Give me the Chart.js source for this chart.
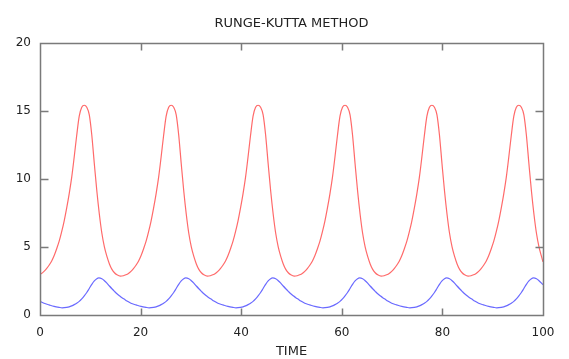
<!DOCTYPE html>
<html><head><meta charset="utf-8">
<script src="https://cdn.jsdelivr.net/npm/chart.js@4.4.1/dist/chart.umd.min.js"></script>
<style>html,body{margin:0;padding:0;background:#fff;}#wrap{width:569px;height:359px;}</style>
</head><body><div id="wrap"><canvas id="c" width="569" height="359"></canvas></div>
<script>
const chartTitle = 'RUNGE-KUTTA METHOD';
const xAxisTitle = 'TIME';
const xTicks = [0, 20, 40, 60, 80, 100];
const yTicks = [0, 5, 10, 15, 20];

// Red series (prey)
const redTime = [
  0, 0.3, 0.8, 1.3, 1.8, 2.3, 2.8, 3.3, 3.8, 4.3, 4.8, 5.3, 5.8, 6.3, 6.8, 7.3, 7.8, 8.3, 8.8, 9.3, 9.8, 10.3, 10.8, 11.3, 11.8, 12.3, 12.8, 13.3, 13.8, 14.3, 14.8, 15.3,
  15.98, 16.58, 17.08, 17.58, 18.08, 18.58, 19.08, 19.58, 20.08, 20.58, 21.08, 21.58, 22.08, 22.58, 23.08, 23.58, 24.08, 24.58, 25.08, 25.58, 26.08, 26.58, 27.08, 27.58, 28.08, 28.58, 29.08, 29.58, 30.08, 30.58, 31.08, 31.58, 32.08, 32.58,
  33.26, 33.86, 34.36, 34.86, 35.36, 35.86, 36.36, 36.86, 37.36, 37.86, 38.36, 38.86, 39.36, 39.86, 40.36, 40.86, 41.36, 41.86, 42.36, 42.86, 43.36, 43.86, 44.36, 44.86, 45.36, 45.86, 46.36, 46.86, 47.36, 47.86, 48.36, 48.86, 49.36, 49.86,
  50.54, 51.14, 51.64, 52.14, 52.64, 53.14, 53.64, 54.14, 54.64, 55.14, 55.64, 56.14, 56.64, 57.14, 57.64, 58.14, 58.64, 59.14, 59.64, 60.14, 60.64, 61.14, 61.64, 62.14, 62.64, 63.14, 63.64, 64.14, 64.64, 65.14, 65.64, 66.14, 66.64, 67.14,
  67.82, 68.42, 68.92, 69.42, 69.92, 70.42, 70.92, 71.42, 71.92, 72.42, 72.92, 73.42, 73.92, 74.42, 74.92, 75.42, 75.92, 76.42, 76.92, 77.42, 77.92, 78.42, 78.92, 79.42, 79.92, 80.42, 80.92, 81.42, 81.92, 82.42, 82.92, 83.42, 83.92, 84.42,
  85.1, 85.7, 86.2, 86.7, 87.2, 87.7, 88.2, 88.7, 89.2, 89.7, 90.2, 90.7, 91.2, 91.7, 92.2, 92.7, 93.2, 93.7, 94.2, 94.7, 95.2, 95.7, 96.2, 96.7, 97.2, 97.7, 98.2, 98.7, 99.2, 99.7, 100
];
const redValue = [
  3.0, 3.05, 3.2, 3.4, 3.65, 3.95, 4.35, 4.85, 5.4, 6.1, 6.9, 7.85, 8.9, 10.1, 11.6, 13.2, 14.6, 15.25, 15.4, 15.25, 14.7, 13.2, 11.1, 9.1, 7.4, 6.0, 5.0, 4.3, 3.75, 3.35, 3.1, 2.95,
  2.85, 2.88, 2.95, 3.05, 3.2, 3.4, 3.65, 3.95, 4.35, 4.85, 5.4, 6.1, 6.9, 7.85, 8.9, 10.1, 11.6, 13.2, 14.6, 15.25, 15.4, 15.25, 14.7, 13.2, 11.1, 9.1, 7.4, 6.0, 5.0, 4.3, 3.75, 3.35, 3.1, 2.95,
  2.85, 2.88, 2.95, 3.05, 3.2, 3.4, 3.65, 3.95, 4.35, 4.85, 5.4, 6.1, 6.9, 7.85, 8.9, 10.1, 11.6, 13.2, 14.6, 15.25, 15.4, 15.25, 14.7, 13.2, 11.1, 9.1, 7.4, 6.0, 5.0, 4.3, 3.75, 3.35, 3.1, 2.95,
  2.85, 2.88, 2.95, 3.05, 3.2, 3.4, 3.65, 3.95, 4.35, 4.85, 5.4, 6.1, 6.9, 7.85, 8.9, 10.1, 11.6, 13.2, 14.6, 15.25, 15.4, 15.25, 14.7, 13.2, 11.1, 9.1, 7.4, 6.0, 5.0, 4.3, 3.75, 3.35, 3.1, 2.95,
  2.85, 2.88, 2.95, 3.05, 3.2, 3.4, 3.65, 3.95, 4.35, 4.85, 5.4, 6.1, 6.9, 7.85, 8.9, 10.1, 11.6, 13.2, 14.6, 15.25, 15.4, 15.25, 14.7, 13.2, 11.1, 9.1, 7.4, 6.0, 5.0, 4.3, 3.75, 3.35, 3.1, 2.95,
  2.85, 2.88, 2.95, 3.05, 3.2, 3.4, 3.65, 3.95, 4.35, 4.85, 5.4, 6.1, 6.9, 7.85, 8.9, 10.1, 11.6, 13.2, 14.6, 15.25, 15.4, 15.25, 14.7, 13.2, 11.1, 9.1, 7.4, 6.0, 5.0, 4.3, 3.9
];

// Blue series (predator)
const blueTime = [
  0, 0.8, 1.8, 2.8, 3.8, 4.4, 5.3, 5.8, 6.3, 6.8, 7.3, 7.8, 8.3, 8.8, 9.3, 9.8, 10.3, 10.8, 11.3, 11.7, 12.3, 12.8, 13.3, 13.8, 14.3, 14.8, 15.3, 15.8, 16.3, 16.8, 17.3,
  18.08, 19.08, 20.08, 21.08, 21.68, 22.58, 23.08, 23.58, 24.08, 24.58, 25.08, 25.58, 26.08, 26.58, 27.08, 27.58, 28.08, 28.58, 28.98, 29.58, 30.08, 30.58, 31.08, 31.58, 32.08, 32.58, 33.08, 33.58, 34.08, 34.58,
  35.36, 36.36, 37.36, 38.36, 38.96, 39.86, 40.36, 40.86, 41.36, 41.86, 42.36, 42.86, 43.36, 43.86, 44.36, 44.86, 45.36, 45.86, 46.26, 46.86, 47.36, 47.86, 48.36, 48.86, 49.36, 49.86, 50.36, 50.86, 51.36, 51.86,
  52.64, 53.64, 54.64, 55.64, 56.24, 57.14, 57.64, 58.14, 58.64, 59.14, 59.64, 60.14, 60.64, 61.14, 61.64, 62.14, 62.64, 63.14, 63.54, 64.14, 64.64, 65.14, 65.64, 66.14, 66.64, 67.14, 67.64, 68.14, 68.64, 69.14,
  69.92, 70.92, 71.92, 72.92, 73.52, 74.42, 74.92, 75.42, 75.92, 76.42, 76.92, 77.42, 77.92, 78.42, 78.92, 79.42, 79.92, 80.42, 80.82, 81.42, 81.92, 82.42, 82.92, 83.42, 83.92, 84.42, 84.92, 85.42, 85.92, 86.42,
  87.2, 88.2, 89.2, 90.2, 90.8, 91.7, 92.2, 92.7, 93.2, 93.7, 94.2, 94.7, 95.2, 95.7, 96.2, 96.7, 97.2, 97.7, 98.1, 98.7, 99.2, 99.7, 100
];
const blueValue = [
  1.0, 0.86, 0.74, 0.63, 0.56, 0.53, 0.56, 0.6, 0.67, 0.76, 0.87, 1.0, 1.18, 1.4, 1.65, 1.95, 2.25, 2.5, 2.67, 2.72, 2.66, 2.52, 2.34, 2.13, 1.93, 1.74, 1.56, 1.41, 1.27, 1.15, 1.03,
  0.86, 0.74, 0.63, 0.56, 0.53, 0.56, 0.6, 0.67, 0.76, 0.87, 1.0, 1.18, 1.4, 1.65, 1.95, 2.25, 2.5, 2.67, 2.72, 2.66, 2.52, 2.34, 2.13, 1.93, 1.74, 1.56, 1.41, 1.27, 1.15, 1.03,
  0.86, 0.74, 0.63, 0.56, 0.53, 0.56, 0.6, 0.67, 0.76, 0.87, 1.0, 1.18, 1.4, 1.65, 1.95, 2.25, 2.5, 2.67, 2.72, 2.66, 2.52, 2.34, 2.13, 1.93, 1.74, 1.56, 1.41, 1.27, 1.15, 1.03,
  0.86, 0.74, 0.63, 0.56, 0.53, 0.56, 0.6, 0.67, 0.76, 0.87, 1.0, 1.18, 1.4, 1.65, 1.95, 2.25, 2.5, 2.67, 2.72, 2.66, 2.52, 2.34, 2.13, 1.93, 1.74, 1.56, 1.41, 1.27, 1.15, 1.03,
  0.86, 0.74, 0.63, 0.56, 0.53, 0.56, 0.6, 0.67, 0.76, 0.87, 1.0, 1.18, 1.4, 1.65, 1.95, 2.25, 2.5, 2.67, 2.72, 2.66, 2.52, 2.34, 2.13, 1.93, 1.74, 1.56, 1.41, 1.27, 1.15, 1.03,
  0.86, 0.74, 0.63, 0.56, 0.53, 0.56, 0.6, 0.67, 0.76, 0.87, 1.0, 1.18, 1.4, 1.65, 1.95, 2.25, 2.5, 2.67, 2.72, 2.66, 2.52, 2.34, 2.22
];

const FONT = 'DejaVu Sans, Verdana, sans-serif';
const TEXT = '#222';
const FRAME = '#7a7a7a';

const framePlugin = {
  id: 'frame',
  afterDraw(chart) {
    const ctx = chart.ctx;
    const a = chart.chartArea;
    const xs = chart.scales.x, ys = chart.scales.y;
    const L = Math.round(a.left) + 0.5, R = Math.round(a.right) + 0.5;
    const T = Math.round(a.top) + 0.5, B = Math.round(a.bottom) + 0.5;
    ctx.save();
    ctx.strokeStyle = FRAME;
    ctx.lineWidth = 1.5;
    ctx.setLineDash([]);
    ctx.beginPath();
    ctx.moveTo(L, T); ctx.lineTo(R, T); ctx.lineTo(R, B); ctx.lineTo(L, B); ctx.closePath();
    for (const v of xTicks) {
      const px = Math.round(xs.getPixelForValue(v)) + 0.5;
      ctx.moveTo(px, B); ctx.lineTo(px, B - 7);
      ctx.moveTo(px, T); ctx.lineTo(px, T + 7);
    }
    for (const v of yTicks) {
      const py = Math.round(ys.getPixelForValue(v)) + 0.5;
      ctx.moveTo(L, py); ctx.lineTo(L + 8, py);
      ctx.moveTo(R, py); ctx.lineTo(R - 8, py);
    }
    ctx.stroke();
    ctx.restore();
  }
};

new Chart(document.getElementById('c'), {
  type: 'line',
  data: {
    datasets: [
      {
        label: 'prey',
        data: redTime.map((t, i) => ({ x: t, y: redValue[i] })),
        borderColor: '#ff6a6a',
        borderWidth: 1.2,
        pointRadius: 0,
        fill: false,
        cubicInterpolationMode: 'monotone'
      },
      {
        label: 'predator',
        data: blueTime.map((t, i) => ({ x: t, y: blueValue[i] })),
        borderColor: '#6a6aff',
        borderWidth: 1.2,
        pointRadius: 0,
        fill: false,
        cubicInterpolationMode: 'monotone'
      }
    ]
  },
  options: {
    responsive: false,
    animation: false,
    devicePixelRatio: 1,
    layout: { padding: { left: 0, right: 26, top: 0, bottom: 0 } },
    plugins: {
      legend: { display: false },
      tooltip: { enabled: false },
      title: {
        display: true,
        text: chartTitle,
        color: TEXT,
        fullSize: false,
        font: { family: FONT, size: 13, weight: 'normal' },
        padding: { top: 16, bottom: 11 }
      }
    },
    scales: {
      x: {
        type: 'linear',
        min: 0, max: 100,
        grid: { display: false, drawTicks: false },
        border: { display: false },
        afterBuildTicks: s => { s.ticks = xTicks.map(v => ({ value: v })); },
        afterFit: s => { s.height = 44; },
        ticks: { color: TEXT, font: { family: FONT, size: 12 }, padding: 11, maxRotation: 0, autoSkip: false },
        title: { display: true, text: xAxisTitle, color: TEXT, font: { family: FONT, size: 13 }, padding: { top: 2, bottom: 0 } }
      },
      y: {
        min: 0, max: 20,
        grid: { display: false, drawTicks: false },
        border: { display: false },
        afterBuildTicks: s => { s.ticks = yTicks.map(v => ({ value: v })); },
        afterFit: s => { s.width = 40; },
        ticks: { color: TEXT, font: { family: FONT, size: 12 }, padding: 9 }
      }
    }
  },
  plugins: [framePlugin]
});
</script>
</body></html>
